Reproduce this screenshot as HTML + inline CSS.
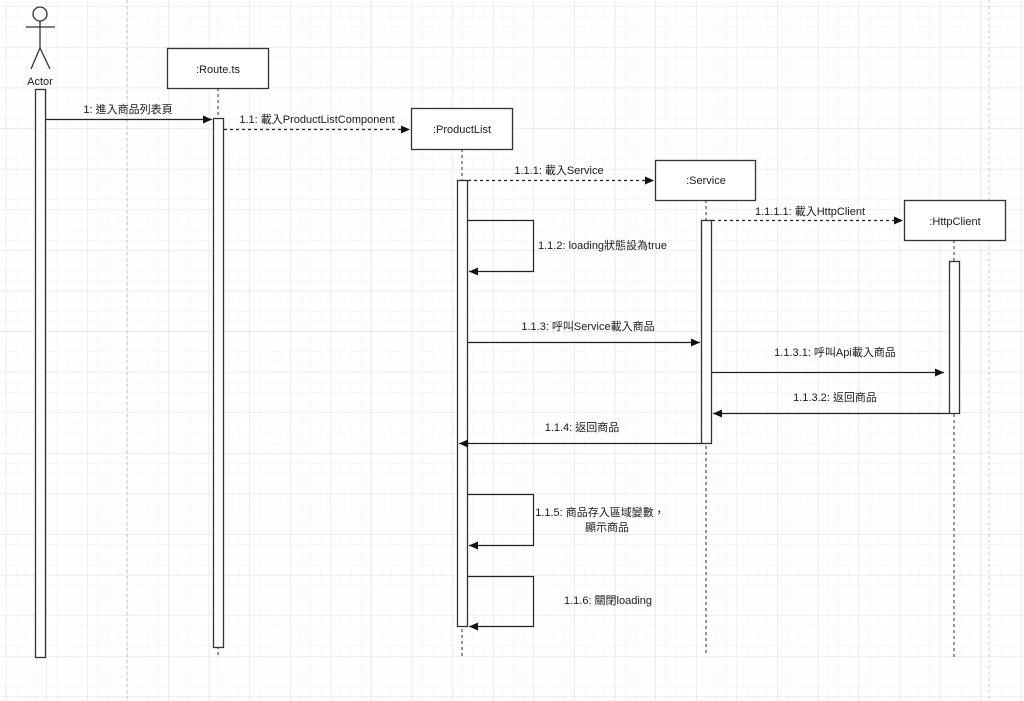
<!DOCTYPE html>
<html><head><meta charset="utf-8"><style>
html,body{margin:0;padding:0;background:#fff;}
svg{display:block;}
text{font-family:"Liberation Sans","Noto Sans CJK TC",sans-serif;font-size:11px;fill:#1a1a1a;}
</style></head><body>
<svg width="1024" height="701" viewBox="0 0 1024 701" xmlns="http://www.w3.org/2000/svg">
<defs>
<pattern id="minor" x="5.8" y="6.5" width="10.15" height="10.15" patternUnits="userSpaceOnUse">
<path d="M0 0H10.15M0 0V10.15" stroke="#f0f0f0" stroke-width="1" fill="none"/>
</pattern>
<pattern id="major" x="5.8" y="6.5" width="40.6" height="40.6" patternUnits="userSpaceOnUse">
<path d="M0 0H40.6M0 0V40.6" stroke="#e0e0e0" stroke-width="1" fill="none"/>
</pattern>
<marker id="ah" markerWidth="10" markerHeight="8" refX="9" refY="4" orient="auto" markerUnits="userSpaceOnUse">
<path d="M0 0L9 4L0 8Z" fill="#111"/>
</marker>
</defs>
<rect width="1024" height="701" fill="url(#minor)"/>
<rect width="1024" height="701" fill="url(#major)"/>
<line x1="127" y1="0" x2="127" y2="701" stroke="#ccc" stroke-dasharray="3 3"/>
<line x1="989" y1="0" x2="989" y2="701" stroke="#ccc" stroke-dasharray="3 3"/>

<g stroke="#333" fill="none" stroke-width="1.3">
<circle cx="40" cy="14" r="7" fill="#fff"/>
<line x1="40" y1="21" x2="40" y2="48"/>
<line x1="26" y1="27" x2="55" y2="27"/>
<line x1="40" y1="48" x2="31" y2="69"/>
<line x1="40" y1="48" x2="50" y2="69"/>
</g>
<text x="40" y="85" text-anchor="middle" font-size="12">Actor</text>

<g stroke="#555" stroke-dasharray="3 3" fill="none" stroke-width="1.2">
<line x1="218" y1="88" x2="218" y2="658"/>
<line x1="462" y1="149" x2="462" y2="658"/>
<line x1="706" y1="200" x2="706" y2="656"/>
<line x1="954" y1="240" x2="954" y2="658"/>
</g>

<g stroke="#333" fill="#fff" stroke-width="1.3">
<rect x="167.5" y="48.5" width="101" height="40"/>
<rect x="411.5" y="108.5" width="101" height="41"/>
<rect x="655.5" y="160.5" width="100" height="40"/>
<rect x="904.5" y="200.5" width="101" height="40"/>
<rect x="35.5" y="89.5" width="10" height="568"/>
<rect x="213.5" y="118.5" width="10" height="529"/>
<rect x="457.5" y="180.5" width="10" height="446"/>
<rect x="701.5" y="220.5" width="10" height="223"/>
<rect x="949.5" y="261.5" width="10" height="152"/>
</g>
<text x="218" y="73" text-anchor="middle" font-size="12.5">:Route.ts</text>
<text x="462" y="133" text-anchor="middle" font-size="12.5">:ProductList</text>
<text x="706" y="184" text-anchor="middle" font-size="12.5">:Service</text>
<text x="955" y="225" text-anchor="middle" font-size="12.5">:HttpClient</text>

<g stroke="#222" fill="none" stroke-width="1.2">
<line x1="46" y1="119.5" x2="212" y2="119.5" marker-end="url(#ah)"/>
<line x1="224" y1="129.5" x2="410" y2="129.5" stroke-dasharray="3 3" marker-end="url(#ah)"/>
<line x1="468" y1="180.5" x2="654" y2="180.5" stroke-dasharray="3 3" marker-end="url(#ah)"/>
<line x1="712" y1="220.5" x2="903" y2="220.5" stroke-dasharray="3 3" marker-end="url(#ah)"/>
<polyline points="468,220.5 533.5,220.5 533.5,271.5 469,271.5" marker-end="url(#ah)"/>
<line x1="468" y1="342.5" x2="700" y2="342.5" marker-end="url(#ah)"/>
<line x1="712" y1="372.5" x2="944" y2="372.5" marker-end="url(#ah)"/>
<line x1="949" y1="413.5" x2="713" y2="413.5" marker-end="url(#ah)"/>
<line x1="701" y1="443.5" x2="459" y2="443.5" marker-end="url(#ah)"/>
<polyline points="468,494.5 533.5,494.5 533.5,545.5 469,545.5" marker-end="url(#ah)"/>
<polyline points="468,576.5 533.5,576.5 533.5,626.5 469,626.5" marker-end="url(#ah)"/>
</g>

<text x="128" y="113" text-anchor="middle">1: 進入商品列表頁</text>
<text x="317" y="123" text-anchor="middle">1.1: 載入ProductListComponent</text>
<text x="559" y="174" text-anchor="middle">1.1.1: 載入Service</text>
<text x="810" y="215" text-anchor="middle">1.1.1.1: 載入HttpClient</text>
<text x="538" y="249">1.1.2: loading狀態設為true</text>
<text x="588" y="330" text-anchor="middle">1.1.3: 呼叫Service載入商品</text>
<text x="835" y="356" text-anchor="middle">1.1.3.1: 呼叫Api載入商品</text>
<text x="835" y="401" text-anchor="middle">1.1.3.2: 返回商品</text>
<text x="582" y="431" text-anchor="middle">1.1.4: 返回商品</text>
<text x="600" y="516" text-anchor="middle">1.1.5: 商品存入區域變數，</text>
<text x="607" y="531" text-anchor="middle">顯示商品</text>
<text x="608" y="604" text-anchor="middle">1.1.6: 關閉loading</text>
</svg>
</body></html>
